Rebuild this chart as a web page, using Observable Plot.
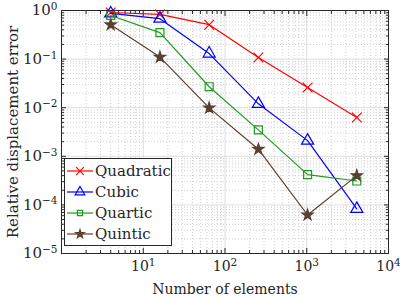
<!DOCTYPE html>
<html>
<head>
<meta charset="utf-8">
<script src="https://cdn.jsdelivr.net/npm/d3@7"></script>
<script src="https://cdn.jsdelivr.net/npm/@observablehq/plot@0.6"></script>
<style>
  body { margin: 0; background: #fff; }
  #wrap { position: relative; width: 400px; height: 300px; }
  #legend { position: absolute; left: 64px; top: 158px; }
</style>
</head>
<body>
<div id="wrap"><div id="chart"></div><div id="legend"></div></div>
<script>
// Data
const elements = [4, 16, 64, 256, 1024, 4096];
const quadratic = [0.91, 0.83, 0.51, 0.108, 0.026, 0.0063];
const cubic     = [0.87, 0.68, 0.13, 0.012, 0.0021, 8.3e-5];
const quartic   = [0.79, 0.35, 0.027, 0.0035, 4.2e-4, 3.1e-4];
const quintic   = [0.51, 0.11, 0.0099, 0.0014, 6.2e-5, 4.0e-4];

const seriesNames = ["Quadratic", "Cubic", "Quartic", "Quintic"];
const seriesValues = [quadratic, cubic, quartic, quintic];
const seriesColors = ["#ff0000", "#0000ff", "#1e9a1e", "#5a4030"];
const seriesSymbols = ["times", "triangle", "square", "star"];
const seriesFills = ["none", "none", "none", "#5a4030"];

const xMajor = [1, 10, 100, 1000, 10000];
const xLabeled = [10, 100, 1000, 10000];
const yMajor = [1e-5, 1e-4, 1e-3, 1e-2, 1e-1, 1];

const FONT = "'DejaVu Serif', serif";
const INK = "#262626";

function minorTicks(lo, hi) {
  const out = [];
  for (let e = lo; e < hi; e++) for (let k = 2; k <= 9; k++) out.push(k * Math.pow(10, e));
  return out;
}
const xMinor = minorTicks(0, 4);
const yMinor = minorTicks(-5, 0);
const expFmt = d => "10^" + Math.round(Math.log10(d));
const blank = () => "";

const marks = [
  Plot.gridX(xMinor, {stroke: "#d0d0d0", strokeOpacity: 1, strokeDasharray: "1,2"}),
  Plot.gridY(yMinor, {stroke: "#d0d0d0", strokeOpacity: 1, strokeDasharray: "1,2"}),
  Plot.gridX(xMajor, {stroke: "#dedede", strokeOpacity: 1}),
  Plot.gridY(yMajor, {stroke: "#dedede", strokeOpacity: 1}),
  Plot.axisX(xLabeled, {tickSize: -5, tickPadding: 13, tickFormat: expFmt, fontSize: 14, label: "Number of elements", labelAnchor: "center", labelArrow: "none", labelOffset: 40, stroke: INK, fill: INK}),
  Plot.axisX(xMinor, {tickSize: -3, tickFormat: blank, label: null, stroke: INK}),
  Plot.axisX(xMajor, {anchor: "top", tickSize: -5, tickFormat: blank, label: null, stroke: INK}),
  Plot.axisX(xMinor, {anchor: "top", tickSize: -3, tickFormat: blank, label: null, stroke: INK}),
  Plot.axisY(yMajor, {tickSize: -5, tickPadding: 9, tickFormat: expFmt, fontSize: 15, label: "Relative displacement error", labelAnchor: "center", labelArrow: "none", labelOffset: 54, stroke: INK, fill: INK}),
  Plot.axisY(yMinor, {tickSize: -3, tickFormat: blank, label: null, stroke: INK}),
  Plot.axisY(yMajor, {anchor: "right", tickSize: -5, tickFormat: blank, label: null, stroke: INK}),
  Plot.axisY(yMinor, {anchor: "right", tickSize: -3, tickFormat: blank, label: null, stroke: INK}),
  Plot.frame({stroke: INK, strokeWidth: 1})
];

seriesNames.forEach((name, i) => {
  const data = elements.map((x, j) => ({x, y: seriesValues[i][j]}));
  marks.push(Plot.line(data, {x: "x", y: "y", stroke: seriesColors[i], strokeWidth: 1.2}));
  marks.push(Plot.dot(data, {x: "x", y: "y", symbol: seriesSymbols[i], stroke: seriesColors[i], fill: seriesFills[i], r: seriesSymbols[i] === "star" ? 3.5 : 4.5, strokeWidth: 1.2}));
});

const chart = Plot.plot({
  width: 400, height: 300,
  marginLeft: 61, marginRight: 12, marginTop: 10, marginBottom: 47,
  x: {type: "log", domain: [1, 1e4]},
  y: {type: "log", domain: [1e-5, 1]},
  style: {fontFamily: FONT, color: INK, background: "#fff"},
  marks
});

// Render exponents as superscripts
d3.select(chart).selectAll("text").each(function () {
  const t = this.textContent;
  const m = /^10\^(-?\d+)$/.exec(t);
  if (!m) return;
  const el = d3.select(this);
  el.text(null);
  el.append("tspan").text("10");
  el.append("tspan").attr("dy", "-0.5em").attr("font-size", "10.5").text(m[1].replace("-", "\u2212"));
});
document.getElementById("chart").appendChild(chart);

// Legend box inside the plot
const lw = 108, lh = 88;
const leg = d3.select("#legend").append("svg").attr("width", lw).attr("height", lh);
leg.append("rect").attr("x", 0.5).attr("y", 0.5).attr("width", lw - 1).attr("height", lh - 1)
  .attr("fill", "#fff").attr("stroke", INK);
const symMap = {times: d3.symbolTimes, triangle: d3.symbolTriangle, square: d3.symbolSquare, star: d3.symbolStar};
seriesNames.forEach((name, i) => {
  const y = 13 + i * 21;
  const g = leg.append("g");
  g.append("line").attr("x1", 3).attr("x2", 29).attr("y1", y).attr("y2", y)
    .attr("stroke", seriesColors[i]).attr("stroke-width", 1.2);
  g.append("path").attr("transform", `translate(16,${y})`)
    .attr("d", d3.symbol(symMap[seriesSymbols[i]], seriesSymbols[i] === "star" ? 22 : seriesSymbols[i] === "square" ? 28 : 40)())
    .attr("stroke", seriesColors[i]).attr("fill", seriesFills[i] === "none" ? "none" : seriesFills[i]).attr("stroke-width", 1.2);
  g.append("text").attr("x", 31).attr("y", y).attr("dy", "0.35em")
    .attr("font-family", FONT).attr("font-size", 15).attr("fill", INK).text(name);
});
</script>
</body>
</html>
